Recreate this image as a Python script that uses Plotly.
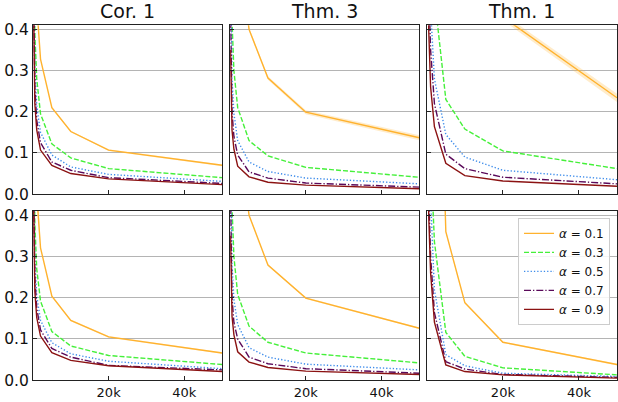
import plotly.graph_objects as go

# ---------------- data ----------------
x_vals = [100, 500, 1000, 2000, 5000, 10000, 20000, 50000]
alpha_labels = ["0.1", "0.3", "0.5", "0.7", "0.9"]
panel_titles = ["Cor. 1", "Thm. 3", "Thm. 1"]

# top row
cor1_top = [
    [1.50, 0.67, 0.46, 0.328, 0.210, 0.152, 0.107, 0.070],
    [0.85, 0.39, 0.28, 0.195, 0.122, 0.088, 0.062, 0.040],
    [0.68, 0.31, 0.215, 0.150, 0.095, 0.066, 0.048, 0.031],
    [0.57, 0.26, 0.18, 0.125, 0.078, 0.058, 0.040, 0.026],
    [0.50, 0.22, 0.156, 0.107, 0.070, 0.050, 0.037, 0.023],
]
thm3_top = [
    [3.00, 1.30, 0.90, 0.62, 0.400, 0.282, 0.199, 0.137],
    [0.95, 0.42, 0.30, 0.210, 0.130, 0.093, 0.065, 0.041],
    [0.62, 0.28, 0.196, 0.130, 0.078, 0.055, 0.039, 0.025],
    [0.45, 0.20, 0.14, 0.095, 0.054, 0.039, 0.027, 0.017],
    [0.35, 0.155, 0.109, 0.068, 0.042, 0.029, 0.022, 0.013],
]
thm1_top = [
    [8.00, 3.50, 2.50, 1.70, 1.10, 0.75, 0.430, 0.234],
    [2.00, 0.90, 0.70, 0.48, 0.230, 0.158, 0.105, 0.062],
    [1.50, 0.65, 0.45, 0.280, 0.145, 0.090, 0.058, 0.035],
    [1.10, 0.50, 0.35, 0.220, 0.097, 0.062, 0.041, 0.025],
    [0.90, 0.40, 0.26, 0.164, 0.075, 0.045, 0.032, 0.019],
]
# bottom row
cor1_bot = [
    [1.45, 0.65, 0.45, 0.321, 0.204, 0.145, 0.105, 0.066],
    [0.85, 0.38, 0.27, 0.192, 0.118, 0.083, 0.060, 0.038],
    [0.65, 0.29, 0.205, 0.145, 0.091, 0.064, 0.046, 0.028],
    [0.55, 0.25, 0.175, 0.122, 0.077, 0.056, 0.036, 0.025],
    [0.48, 0.215, 0.152, 0.107, 0.067, 0.048, 0.035, 0.021],
]
thm3_bot = [
    [3.00, 1.30, 0.90, 0.62, 0.400, 0.279, 0.199, 0.126],
    [0.95, 0.42, 0.30, 0.208, 0.131, 0.092, 0.066, 0.042],
    [0.62, 0.28, 0.196, 0.135, 0.079, 0.056, 0.039, 0.025],
    [0.45, 0.20, 0.14, 0.100, 0.056, 0.040, 0.028, 0.017],
    [0.35, 0.155, 0.11, 0.069, 0.044, 0.031, 0.022, 0.014],
]
thm1_bot = [
    [5.00, 2.20, 1.80, 1.30, 0.360, 0.188, 0.092, 0.038],
    [1.80, 0.80, 0.55, 0.336, 0.116, 0.058, 0.030, 0.013],
    [1.30, 0.55, 0.44, 0.219, 0.062, 0.035, 0.017, 0.009],
    [1.00, 0.45, 0.30, 0.164, 0.045, 0.027, 0.014, 0.007],
    [0.90, 0.40, 0.26, 0.141, 0.037, 0.021, 0.013, 0.005],
]
# half-width of the shaded band around the alpha=0.1 curve
band_cor1_top = [0, 0, 0, 0, 0.002, 0.002, 0.002, 0.002]
band_thm3_top = [0, 0, 0, 0, 0.004, 0.004, 0.005, 0.006]
band_thm1_top = [0, 0, 0, 0, 0.006, 0.007, 0.008, 0.010]
band_cor1_bot = [0, 0, 0, 0, 0.002, 0.002, 0.002, 0.002]
band_thm3_bot = [0, 0, 0, 0, 0.002, 0.002, 0.002, 0.002]
band_thm1_bot = [0, 0, 0, 0, 0.003, 0.003, 0.002, 0.002]

x_tick_vals = [20000, 40000]
x_tick_text = ["20k", "40k"]
y_tick_vals = [0.0, 0.1, 0.2, 0.3, 0.4]
y_tick_text = ["0.0", "0.1", "0.2", "0.3", "0.4"]

panels = [cor1_top, thm3_top, thm1_top, cor1_bot, thm3_bot, thm1_bot]
bands = [band_cor1_top, band_thm3_top, band_thm1_top,
         band_cor1_bot, band_thm3_bot, band_thm1_bot]

# ---------------- style ----------------
W, H = 618, 402
colors = ["#FFB22E", "#45F03A", "#3D8CEB", "#5A0A5A", "#8B1212"]
dashes = ["solid", "5px,2px", "1.3px,2px", "7px,2px,1.3px,2px", "solid"]
band_fill = "rgba(255,178,46,0.25)"
font_family = "DejaVu Sans"

col_px = [(33, 222.5), (230.5, 420), (427.5, 618)]
row_px = [(22, 196.5), (214, 388.8)]


def xdom(c):
    return [col_px[c][0] / W, min(col_px[c][1] / W, 1.0)]


def ydom(r):
    return [(H - row_px[r][1]) / H, (H - row_px[r][0]) / H]


fig = go.Figure()

for p in range(6):
    r, c = divmod(p, 3)
    xa = "x" if p == 0 else f"x{p + 1}"
    ya = "y" if p == 0 else f"y{p + 1}"
    data = panels[p]
    band = bands[p]
    up = [v + b for v, b in zip(data[0], band)]
    lo = [v - b for v, b in zip(data[0], band)]
    fig.add_trace(go.Scatter(
        x=x_vals + x_vals[::-1], y=up + lo[::-1], fill="toself",
        fillcolor=band_fill, line=dict(width=0), mode="lines",
        hoverinfo="skip", showlegend=False, xaxis=xa, yaxis=ya))
    for i, series in enumerate(data):
        fig.add_trace(go.Scatter(
            x=x_vals, y=series, mode="lines",
            line=dict(color=colors[i], width=1.4, dash=dashes[i]),
            name=f"<i>α</i> = {alpha_labels[i]}",
            showlegend=(p == 5), xaxis=xa, yaxis=ya))

    axis_common = dict(showline=True, mirror=True, linecolor="#222",
                       linewidth=1, ticks="inside", ticklen=4,
                       tickcolor="#222", tickwidth=1, zeroline=False)
    xkey = "xaxis" if p == 0 else f"xaxis{p + 1}"
    ykey = "yaxis" if p == 0 else f"yaxis{p + 1}"
    fig.layout[xkey] = dict(
        domain=xdom(c), anchor=ya, range=[0, 50000],
        tickvals=x_tick_vals, ticktext=x_tick_text,
        showticklabels=(r == 1), showgrid=False,
        tickfont=dict(family=font_family, size=13, color="#111"),
        **axis_common)
    fig.layout[ykey] = dict(
        domain=ydom(r), anchor=xa, range=[0, 0.41],
        tickvals=y_tick_vals, ticktext=y_tick_text,
        showticklabels=(c == 0), showgrid=True, gridcolor="#b4b4b4",
        gridwidth=1,
        tickfont=dict(family=font_family, size=15.5, color="#111"),
        **axis_common)

annotations = []
for c in range(3):
    xc = (col_px[c][0] + min(col_px[c][1], W)) / 2 / W
    annotations.append(dict(
        text=panel_titles[c], x=xc, y=(H - 21) / H, xref="paper",
        yref="paper", xanchor="center", yanchor="bottom", showarrow=False,
        font=dict(family=font_family, size=19, color="#111")))

fig.update_layout(
    width=W, height=H, margin=dict(l=0, r=0, t=0, b=0),
    paper_bgcolor="white", plot_bgcolor="white",
    font=dict(family=font_family, size=12, color="#111"),
    annotations=annotations,
    legend=dict(x=611 / W, y=(H - 221) / H, xanchor="right", yanchor="top",
                bgcolor="rgba(255,255,255,0.85)", bordercolor="#cccccc",
                borderwidth=1, itemwidth=30, tracegroupgap=0,
                font=dict(family=font_family, size=12, color="#111")),
)

fig.write_html("out.html")
